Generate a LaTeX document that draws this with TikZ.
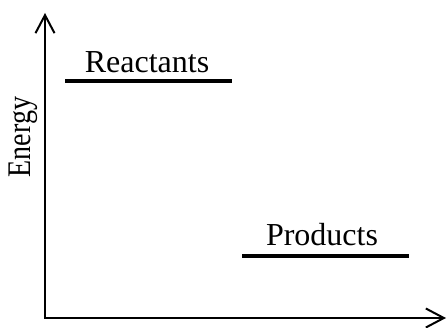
\documentclass[tikz,border=0pt]{standalone}
\usepackage{fontspec}
\setmainfont{Liberation Serif}
\usetikzlibrary{arrows.meta}
\begin{document}
\begin{tikzpicture}[x=1pt,y=1pt,
  axis/.style={line width=2pt,-{Straight Barb[length=18pt,width=19pt,line width=2pt]}},
  level/.style={line width=4pt},
  lbl/.style={font=\fontsize{32}{32}\selectfont,inner sep=0pt}]
  \useasboundingbox (0,0) rectangle (447,327);
  % axes
  \coordinate (origin) at (45,9);
  \coordinate (ytop) at (45,314);
  \coordinate (xend) at (446,9);
  \draw[axis] (origin) -- (ytop);
  \draw[axis] ([xshift=-1pt]origin) -- (xend);
  \node[lbl,rotate=90,font=\fontsize{33}{33}\selectfont] (energy) at (23,190)
    {\scalebox{0.85}[1]{Energy}};
  % energy levels
  \coordinate (reactL) at (65,246);
  \coordinate (reactR) at (232,246);
  \coordinate (prodL) at (242,71);
  \coordinate (prodR) at (409,71);
  \draw[level] (reactL) -- (reactR);
  \draw[level] (prodL) -- (prodR);
  \node[lbl,anchor=base] (reactants) at (147,254) {Reactants};
  \node[lbl,anchor=base] (products) at (322,82) {Products};
\end{tikzpicture}
\end{document}
